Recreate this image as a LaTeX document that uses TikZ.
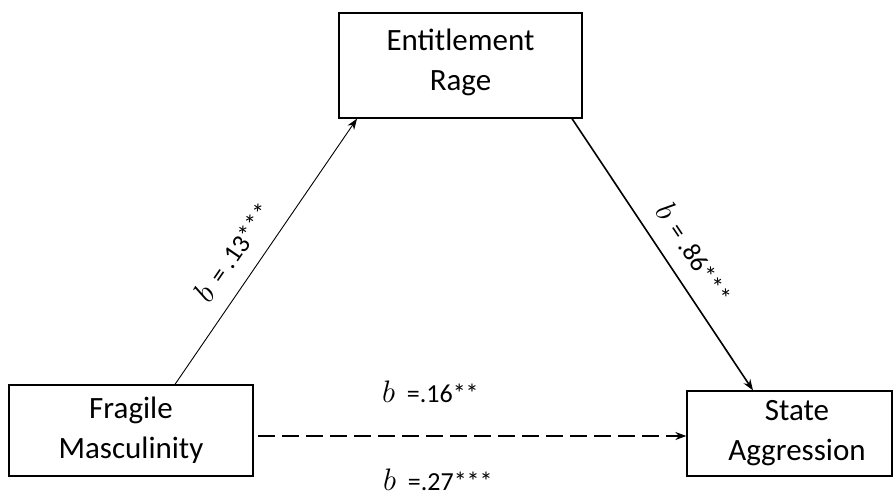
\documentclass[tikz,border=0pt]{standalone}
\usepackage{fontspec}
\setmainfont{Carlito}
\usetikzlibrary{arrows.meta}
\tikzset{
  box/.style={draw=black, line width=1.3pt, rectangle, inner sep=0pt,
    align=center, font=\fontsize{31}{40}\selectfont},
  boxtext/.style={align=center, inner sep=0pt, font=\fontsize{31}{40}\selectfont},
  coef/.style={inner sep=0pt, font=\fontsize{26}{30}\selectfont},
  path arrow/.style={-{Stealth[length=11pt,width=8pt]}},
}
\newcommand{\coefb}{\scalebox{1.25}{$b$}}
\begin{document}
\begin{tikzpicture}[x=1pt,y=-1pt]
\useasboundingbox (0,0) rectangle (894,495);
% variables
\node[box, minimum width=243pt, minimum height=105pt] (er) at (460.5,65.5) {};
\node[boxtext] (ertext) at (460.5,62.5) {Entitlement\\Rage};
\node[box, minimum width=244pt, minimum height=91pt] (fm) at (131,430.5) {Fragile\\Masculinity};
\node[box, minimum width=205pt, minimum height=85pt] (sa) at (789.5,433.5) {};
\node[boxtext] (satext) at (797,433.5) {State\\Aggression};
% a path
\draw[path arrow, line width=0.9pt] ([xshift=44pt]fm.north) -- ([xshift=-103.5pt]er.south)
  node[coef, pos=0.44, sloped, above=16pt] (la) {\coefb{}\, = .13***};
% b path
\draw[path arrow, line width=1.6pt] ([xshift=111.5pt]er.south) -- ([xshift=-36.5pt]sa.north)
  node[coef, pos=0.55, sloped, above=16pt] (lb) {\coefb{}\, = .86***};
% direct effect
\draw[path arrow, line width=1.6pt, dash pattern=on 17.5pt off 6.5pt, shorten <=4pt]
  ([yshift=-5.5pt]fm.east) -- ([yshift=-5.5pt]fm.east -| sa.west);
\node[coef, anchor=base west] (lc) at (382,402) {\coefb{}\ \ =.16**};
\node[coef, anchor=base west] (ld) at (383,490) {\coefb{}\ \ =.27***};
\end{tikzpicture}
\end{document}
